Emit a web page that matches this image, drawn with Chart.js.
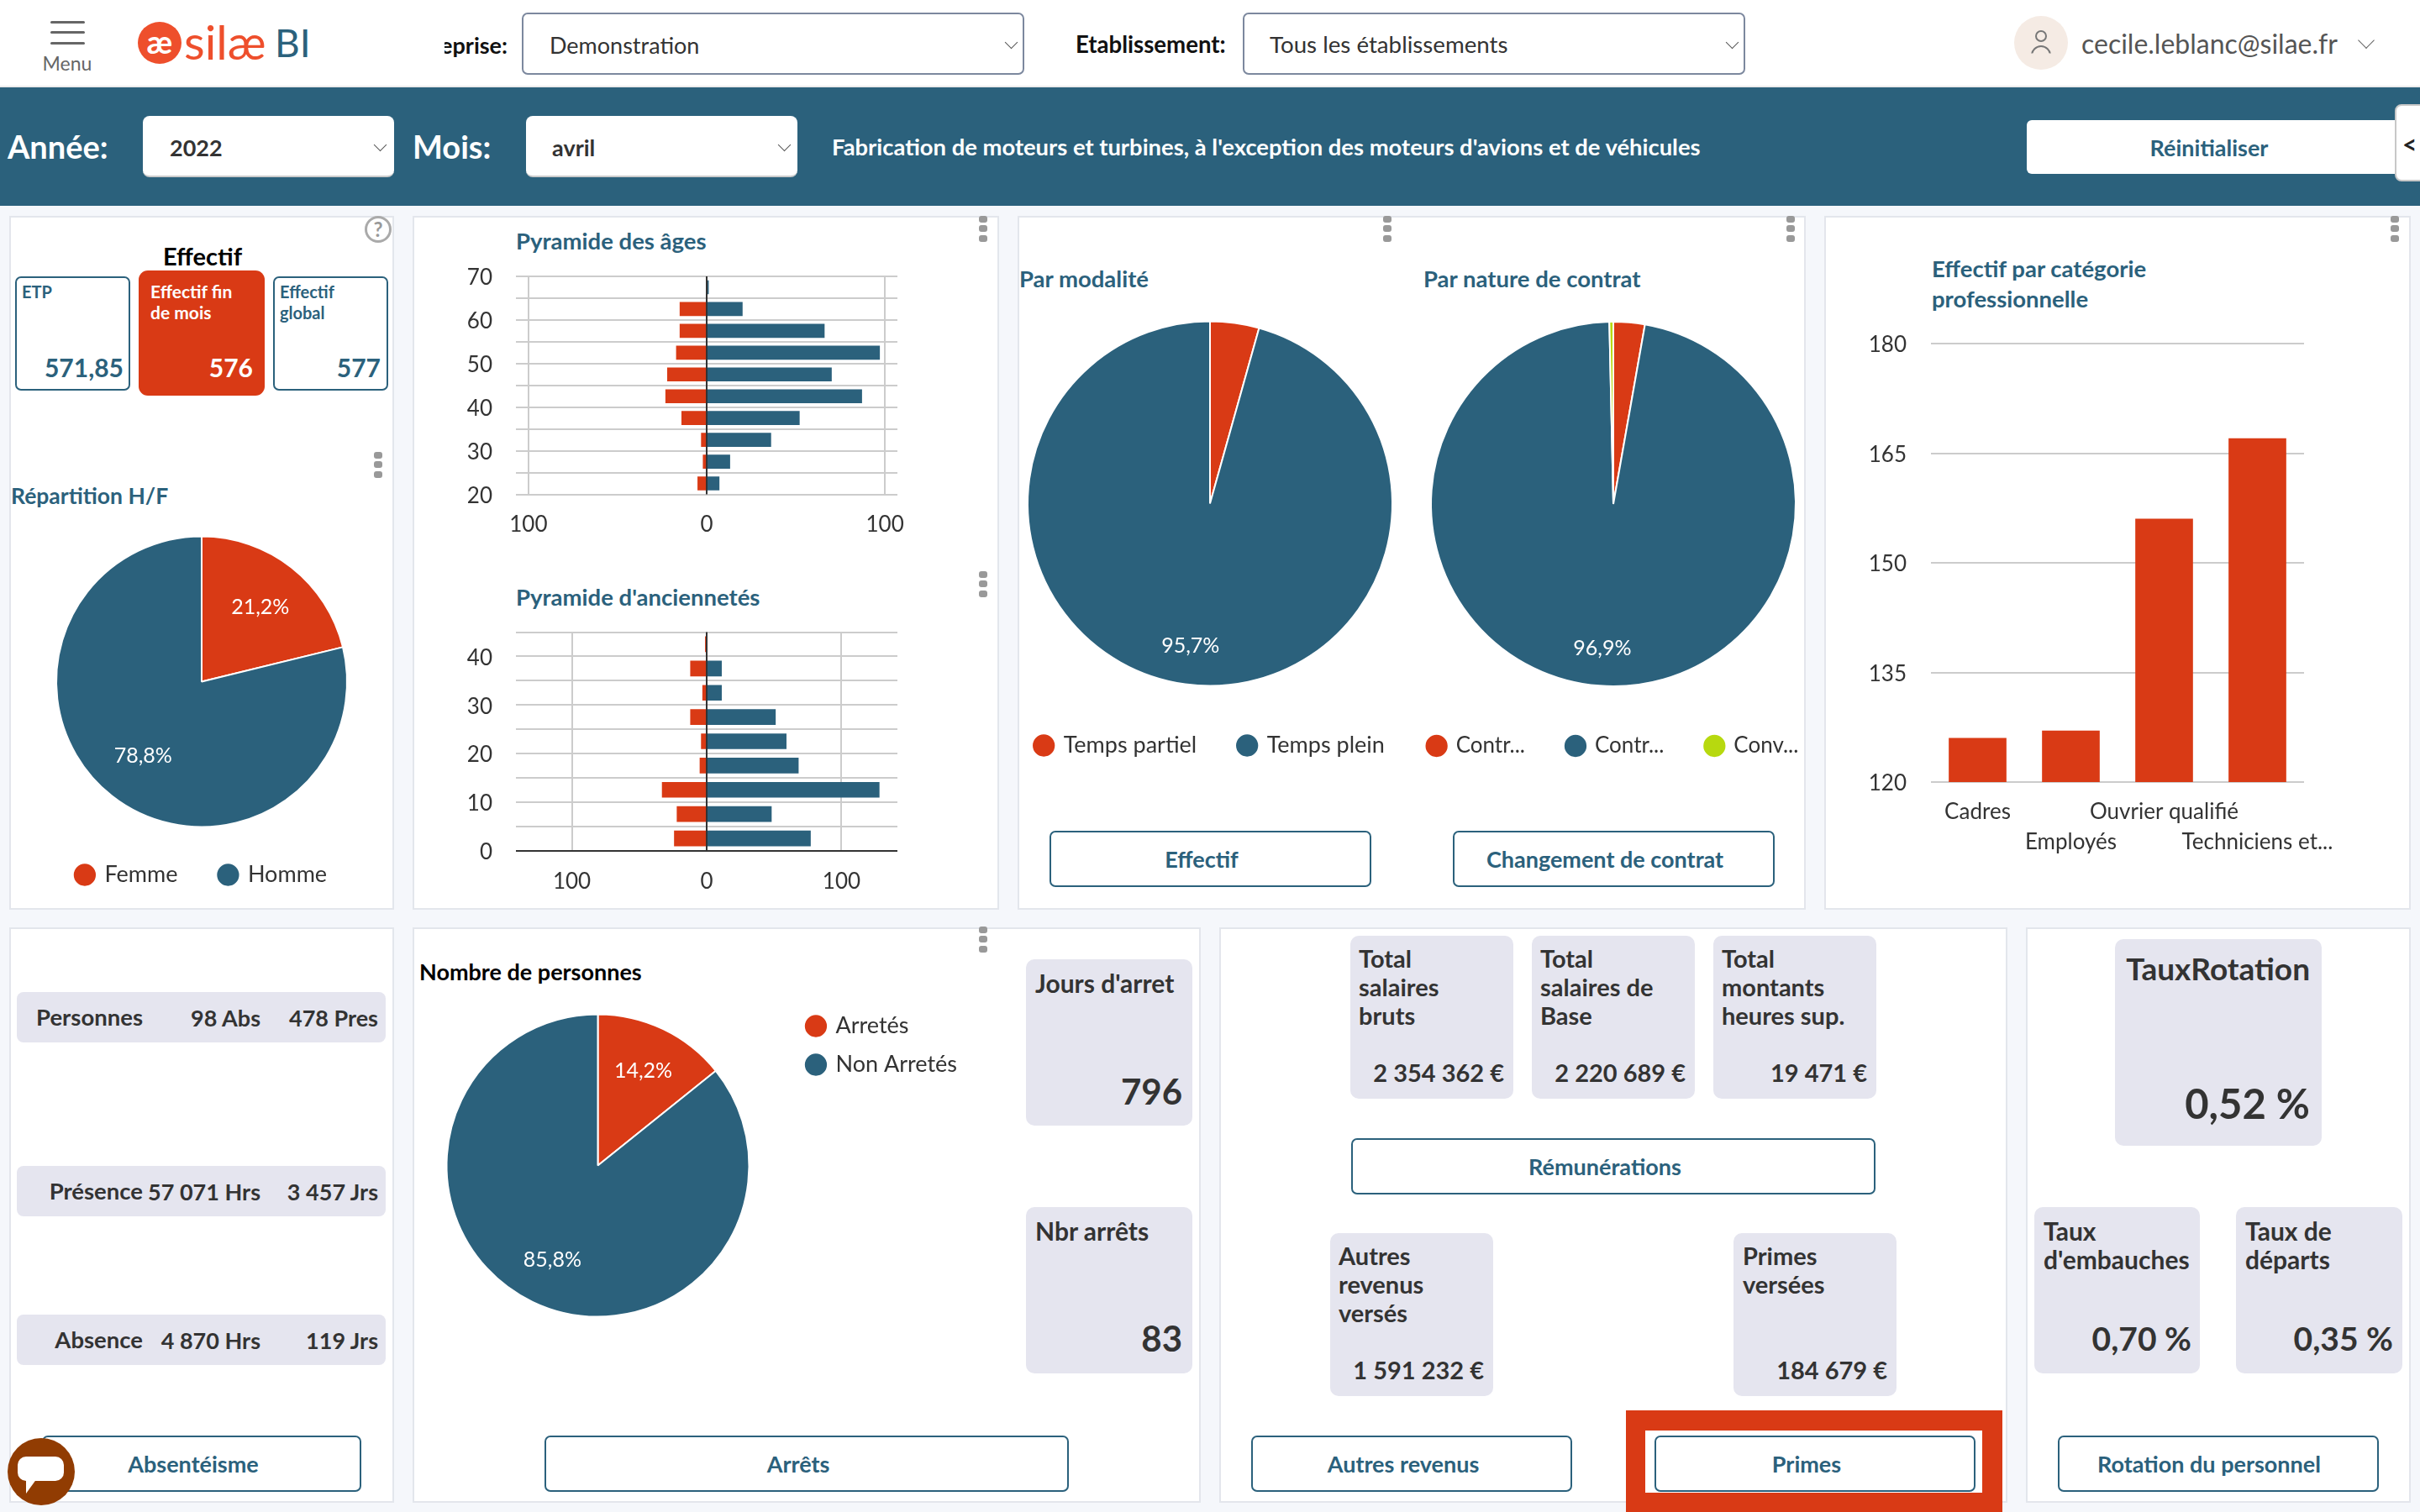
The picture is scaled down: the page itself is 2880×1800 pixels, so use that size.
<!DOCTYPE html>
<html lang="fr">
<head>
<meta charset="utf-8">
<title>Silae BI</title>
<script src="https://cdn.jsdelivr.net/npm/chart.js@4/dist/chart.umd.min.js"></script>
<style>
  html, body { margin: 0; padding: 0; background: #f5f7fb; width: 2880px; height: 1800px; overflow: hidden; font-family: Lato, sans-serif; }
  #page { position: absolute; left: 0; top: 0; width: 2880px; height: 1800px; overflow: hidden; }
  #page div { position: absolute; box-sizing: border-box; }
  .t { white-space: nowrap; line-height: 1; }
  canvas { position: absolute; display: block; }
</style>
</head>
<body>
<div id="page"></div>
<script>
// couleurs du tableau de bord
const ROUGE = '#d93a15';
const BLEU = '#2b617c';
const JAUNE = '#b7d90f';
const GRILLE = '#cccccc';
const GRIS = '#e5e5ef';

// Répartition H/F
const sexeLabels = ['Femme', 'Homme'];
const sexeValues = [122, 454];
// Par modalité
const modaliteLabels = ['Temps partiel', 'Temps plein'];
const modaliteValues = [25, 551];
// Par nature de contrat
const contratLabels = ['Contr...', 'Contr...', 'Conv...'];
const contratValues = [16, 558, 2];
// Arrêts
const arretLabels = ['Arretés', 'Non Arretés'];
const arretValues = [82, 494];

// Pyramide des âges
const agesBins = [22.5, 27.5, 32.5, 37.5, 42.5, 47.5, 52.5, 57.5, 62.5, 67.5];
const agesFemmes = [5, 2, 3, 14, 23, 22, 17, 15, 15, 0];
const agesHommes = [7, 13, 36, 52, 87, 70, 97, 66, 20, 1];
// Pyramide d'anciennetés
const ancBins = [2.5, 7.5, 12.5, 17.5, 22.5, 27.5, 32.5, 37.5, 42.5];
const ancFemmes = [24, 22, 33, 5, 4, 12, 3, 12, 1];
const ancHommes = [77, 48, 128, 68, 59, 51, 11, 11, 0];
const pyramideTicks = [-100, 0, 100];

// Effectif par catégorie professionnelle
const categories = ['Cadres', 'Employés', 'Ouvrier qualifié', 'Techniciens et...'];
const categorieValues = [126, 127, 156, 167];

const page = document.getElementById('page');

function box(x0, y0, x1, y1, css) {
    const d = document.createElement('div');
    d.style.cssText = `left:${x0}px;top:${y0}px;width:${x1 - x0}px;height:${y1 - y0}px;` + (css || '');
    page.appendChild(d);
    return d;
}

// texte centré verticalement sur y ; a = l, r ou c
function text(str, x, y, size, color, weight, a) {
    const d = document.createElement('div');
    d.className = 't';
    d.textContent = str;
    const tx = a === 'r' ? '-100%' : a === 'c' ? '-50%' : '0';
    d.style.cssText = `left:${x}px;top:${y - 1.5}px;font-size:${size}px;color:${color || '#333'};font-weight:${weight || 400};transform:translate(${tx},-50%);`;
    page.appendChild(d);
    return d;
}

function chevron(x, y, s, c) {
    box(x - s / 2, y - s / 2 - 2, x + s / 2, y + s / 2 - 2, `border-right:1.5px solid ${c || '#555'};border-bottom:1.5px solid ${c || '#555'};transform:rotate(45deg) scale(1,1);`);
}

function kebab(x, y) {
    [0, 11, 23].forEach(dy => box(x - 5, y + dy - 4, x + 5, y + dy + 4, 'background:#999;border-radius:3px;'));
}

function bouton(label, x0, x1, y0, y1, cx) {
    box(x0, y0, x1, y1, `background:#fff;border:2.5px solid ${BLEU};border-radius:7px;`);
    text(label, cx, (y0 + y1) / 2 + 1, 27, BLEU, 700, 'c');
}

function panneau(x0, y0, x1, y1) {
    box(x0, y0, x1, y1, 'background:#fff;border:2px solid #e3e6ec;');
}

function tuile(x0, y0, x1, y1, radius) {
    box(x0, y0, x1, y1, `background:${GRIS};border-radius:${radius || 10}px;`);
}

// ---- en-tête ----
box(0, 0, 2880, 102, 'background:#fff;');
box(0, 102, 2880, 104, 'background:#ececec;');
box(0, 104, 2880, 245, `background:${BLEU};`);
[26, 38, 51].forEach(y => box(60, y - 1.5, 101, y + 1.5, 'background:#666;border-radius:2px;'));
text('Menu', 80, 76, 23, '#666', 400, 'c');
box(164, 26, 216, 76, 'background:#ee4f2c;border-radius:50%;');
text('æ', 190, 50, 38, '#fff', 700, 'c');
text('silæ', 219, 50, 57, '#ee4f2c', 400);
text('BI', 327, 52, 46, BLEU, 400);

const coupe = box(529, 33, 604, 73, 'overflow:hidden;display:flex;justify-content:flex-end;align-items:center;');
const entreprise = document.createElement('span');
entreprise.textContent = 'Entreprise:';
entreprise.style.cssText = 'font-size:27px;font-weight:700;color:#111;white-space:nowrap;flex:none;';
coupe.appendChild(entreprise);

box(621, 15, 1219, 89, 'background:#fff;border:2px solid #7c889e;border-radius:7px;');
text('Demonstration', 654, 54, 27, '#333');
chevron(1203, 52, 11);
text('Etablissement:', 1280, 54, 27.6, '#111', 700);
box(1479, 15, 2077, 89, 'background:#fff;border:2px solid #7c889e;border-radius:7px;');
text('Tous les établissements', 1511, 54, 27.7, '#333');
chevron(2061, 52, 11);
box(2397, 19, 2461, 83, 'background:#f5ebe4;border-radius:50%;');
box(2422, 36, 2436, 50, 'border:2px solid #777;border-radius:50%;');
box(2417, 54, 2441, 78, 'border:2px solid #777;border-radius:50%;clip-path:inset(0 0 60% 0);');
text('cecile.leblanc@silae.fr', 2477, 53, 32, '#555');
chevron(2816, 50, 14, '#666');

text('Année:', 9, 175, 38, '#fff', 700);
box(170, 138, 469, 211, 'background:#fff;border-radius:8px;border-bottom:2px solid #ccc;');
text('2022', 202, 176, 27, '#333', 700);
chevron(452, 174, 11);
text('Mois:', 491, 175, 38, '#fff', 700);
box(626, 138, 949, 211, 'background:#fff;border-radius:8px;border-bottom:2px solid #ccc;');
text('avril', 657, 176, 27, '#333', 700);
chevron(933, 174, 11);
text('Fabrication de moteurs et turbines, à l\'exception des moteurs d\'avions et de véhicules', 990, 176, 27.4, '#fff', 700);
box(2412, 143, 2852, 207, 'background:#fff;border-radius:6px 0 0 6px;');
text('Réinitialiser', 2629, 176, 27, BLEU, 700, 'c');
box(2850, 124, 2890, 216, 'background:#fff;border:2px solid #c8c8c8;border-radius:8px;');
text('<', 2859, 172, 30, '#222', 700);

// ---- panneaux ----
panneau(11, 257, 469, 1083);
panneau(491, 257, 1189, 1083);
panneau(1211, 257, 2149, 1083);
panneau(2171, 257, 2869, 1083);
panneau(11, 1104, 469, 1789);
panneau(491, 1104, 1429, 1789);
panneau(1451, 1104, 2389, 1789);
panneau(2411, 1104, 2869, 1789);

kebab(450, 542);
kebab(1170, 261);
kebab(1170, 684);
kebab(1651, 261);
kebab(2131, 261);
kebab(2850, 261);
kebab(1170, 1107);

// Effectif
box(434, 257, 466, 289, 'border:3px solid #aaa;border-radius:50%;');
text('?', 450, 274, 24, '#999', 700, 'c');
text('Effectif', 241, 305, 29, '#000', 700, 'c');
box(18, 329, 155, 465, `background:#fff;border:2px solid ${BLEU};border-radius:7px;`);
text('ETP', 26, 348, 20, BLEU, 700);
text('571,85', 147, 438, 30, BLEU, 700, 'r');
box(165, 322, 315, 471, `background:${ROUGE};border-radius:11px;`);
text('Effectif fin', 179, 347, 21, '#fff', 700);
text('de mois', 179, 372, 21, '#fff', 700);
text('576', 301, 438, 30, '#fff', 700, 'r');
box(325, 329, 462, 465, `background:#fff;border:2px solid ${BLEU};border-radius:7px;`);
text('Effectif', 333, 348, 20, BLEU, 700);
text('global', 333, 373, 20, BLEU, 700);
text('577', 453, 438, 30, BLEU, 700, 'r');

text('Répartition H/F', 13, 591, 26.5, BLEU, 700);
text('Pyramide des âges', 614, 288.5, 27.5, BLEU, 700);
text('Pyramide d\'anciennetés', 614, 712, 27.5, BLEU, 700);
text('Par modalité', 1213, 333, 27.5, BLEU, 700);
text('Par nature de contrat', 1694, 333, 27.5, BLEU, 700);
text('Effectif par catégorie', 2299, 321, 27.5, BLEU, 700);
text('professionnelle', 2299, 357, 27.5, BLEU, 700);
bouton('Effectif', 1249, 1632, 989, 1056, 1430);
bouton('Changement de contrat', 1729, 2112, 989, 1056, 1910);

// Absentéisme
[[1181, 'Personnes', '98 Abs', '478 Pres'], [1388, 'Présence', '57 071 Hrs', '3 457 Jrs'], [1565, 'Absence', '4 870 Hrs', '119 Jrs']].forEach(r => {
    tuile(20, r[0], 459, r[0] + 60, 8);
    text(r[1], 170, r[0] + 31, 27.5, '#333', 700, 'r');
    text(r[2], 310, r[0] + 31, 27, '#333', 700, 'r');
    text(r[3], 450, r[0] + 31, 27, '#333', 700, 'r');
});
bouton('Absentéisme', 50, 430, 1709, 1776, 230);
box(9, 1712, 89, 1792, 'background:#913c02;border-radius:50%;');
box(21, 1734, 76, 1763, 'background:#fff;border-radius:10px;');
box(31, 1760, 44, 1778, 'background:#fff;clip-path:polygon(0 0,100% 0,0 100%);');

// Arrêts
text('Nombre de personnes', 499, 1157, 27, '#000', 700);
tuile(1221, 1142, 1419, 1340);
text('Jours d\'arret', 1232, 1171, 30, '#333', 700);
text('796', 1407, 1300, 42, '#333', 700, 'r');
tuile(1221, 1437, 1419, 1635);
text('Nbr arrêts', 1232, 1466, 30, '#333', 700);
text('83', 1407, 1594, 42, '#333', 700, 'r');
bouton('Arrêts', 648, 1272, 1709, 1776, 950);

// Rémunérations
[[1607, 1801, ['Total', 'salaires', 'bruts'], '2 354 362 €'], [1823, 2017, ['Total', 'salaires de', 'Base'], '2 220 689 €'], [2039, 2233, ['Total', 'montants', 'heures sup.'], '19 471 €']].forEach(r => {
    tuile(r[0], 1114, r[1], 1308);
    r[2].forEach((l, i) => text(l, r[0] + 10, [1141, 1175, 1209][i], 29, '#333', 700));
    text(r[3], r[1] - 11, 1277, 29, '#333', 700, 'r');
});
bouton('Rémunérations', 1608, 2232, 1355, 1422, 1910);
tuile(1583, 1468, 1777, 1662);
['Autres', 'revenus', 'versés'].forEach((l, i) => text(l, 1593, [1495, 1529, 1563][i], 29, '#333', 700));
text('1 591 232 €', 1766, 1631, 29, '#333', 700, 'r');
tuile(2063, 1468, 2257, 1662);
['Primes', 'versées'].forEach((l, i) => text(l, 2074, [1495, 1529][i], 29, '#333', 700));
text('184 679 €', 2246, 1631, 29, '#333', 700, 'r');
bouton('Autres revenus', 1489, 1871, 1709, 1776, 1670);
box(1935, 1679, 2383, 1800, `background:${ROUGE};`);
box(1958, 1703, 2359, 1777, 'background:#fff;');
bouton('Primes', 1969, 2351, 1709, 1776, 2150);

// Rotation
tuile(2517, 1118, 2763, 1364);
text('TauxRotation', 2749, 1153, 37, '#333', 700, 'r');
text('0,52 %', 2749, 1314, 49, '#333', 700, 'r');
tuile(2421, 1437, 2618, 1635);
text('Taux', 2432, 1466, 30, '#333', 700);
text('d\'embauches', 2432, 1500, 30, '#333', 700);
text('0,70 %', 2608, 1594, 39, '#333', 700, 'r');
tuile(2661, 1437, 2859, 1635);
text('Taux de', 2672, 1466, 30, '#333', 700);
text('départs', 2672, 1500, 30, '#333', 700);
text('0,35 %', 2848, 1594, 39, '#333', 700, 'r');
bouton('Rotation du personnel', 2449, 2831, 1709, 1776, 2629);

// ---- graphiques ----
Chart.defaults.font.family = 'Lato, sans-serif';
Chart.defaults.font.size = 26;
Chart.defaults.color = '#333';
Chart.defaults.animation = false;
Chart.defaults.responsive = false;

function canvasAt(x, y, w, h) {
    const c = document.createElement('canvas');
    c.width = w;
    c.height = h;
    c.style.left = x + 'px';
    c.style.top = y + 'px';
    page.appendChild(c);
    return c.getContext('2d');
}

// pourcentages dans les parts
const pctPlugin = {
    id: 'pct',
    afterDatasetsDraw(chart, args, opts) {
        const ctx = chart.ctx;
        const values = chart.data.datasets[0].data;
        const total = values.reduce((a, b) => a + b, 0);
        ctx.save();
        ctx.font = '25px Lato, sans-serif';
        ctx.fillStyle = '#fff';
        ctx.textAlign = 'center';
        ctx.textBaseline = 'middle';
        chart.getDatasetMeta(0).data.forEach((arc, i) => {
            if (values[i] / total < 0.05) return;
            const mid = (arc.startAngle + arc.endAngle) / 2;
            const txt = (values[i] / total * 100).toFixed(1).replace('.', ',') + '%';
            ctx.fillText(txt, arc.x + Math.cos(mid) * opts.dist, arc.y + Math.sin(mid) * opts.dist);
        });
        ctx.restore();
    }
};

function pie(ctx, labels, values, colors, radius, dist, legend, padTop) {
    return new Chart(ctx, {
        type: 'pie',
        data: {
            labels: labels,
            datasets: [{ data: values, backgroundColor: colors, borderColor: '#fff', borderWidth: 2, radius: radius, clip: false }]
        },
        options: {
            layout: { padding: { top: padTop || 0 } },
            plugins: {
                pct: { dist: dist },
                tooltip: { enabled: false },
                legend: legend
            }
        },
        plugins: [pctPlugin]
    });
}

function legendBottom(size) {
    return {
        position: 'bottom',
        labels: { usePointStyle: true, pointStyle: 'circle', boxWidth: 20, boxHeight: 20, padding: 50, color: '#333', font: { size: size } }
    };
}

pie(canvasAt(20, 620, 440, 445), sexeLabels, sexeValues, [ROUGE, BLEU], 173, 113, legendBottom(27), 25);
pie(canvasAt(1140, 375, 600, 536), modaliteLabels, modaliteValues, [ROUGE, BLEU], 217, 171, legendBottom(27));
pie(canvasAt(1620, 375, 600, 536), contratLabels, contratValues, [ROUGE, BLEU, JAUNE], 217, 172, legendBottom(26));
pie(canvasAt(481, 1189, 668, 397), arretLabels, arretValues, [ROUGE, BLEU], 180, 125, {
    position: 'right',
    align: 'start',
    labels: { usePointStyle: true, pointStyle: 'circle', boxWidth: 20, boxHeight: 20, padding: 19, color: '#333', font: { size: 27 } }
});

// trait vertical foncé sur le zéro, par-dessus les barres
const zeroPlugin = {
    id: 'zero',
    afterDatasetsDraw(chart) {
        const x = chart.scales.x.getPixelForValue(0);
        const area = chart.chartArea;
        const ctx = chart.ctx;
        ctx.save();
        ctx.strokeStyle = '#333';
        ctx.lineWidth = 2;
        ctx.beginPath();
        ctx.moveTo(x, area.top);
        ctx.lineTo(x, area.bottom);
        ctx.stroke();
        ctx.restore();
    }
};

function pyramide(ctx, bins, femmes, hommes, xLimit, yMin, yMax, barH, darkZero, tickPad, topPad) {
    return new Chart(ctx, {
        type: 'bar',
        data: {
            datasets: [
                { label: 'Femme', data: bins.map((b, i) => ({ x: -femmes[i], y: b })), backgroundColor: ROUGE, barThickness: barH, grouped: false },
                { label: 'Homme', data: bins.map((b, i) => ({ x: hommes[i], y: b })), backgroundColor: BLEU, barThickness: barH, grouped: false }
            ]
        },
        options: {
            indexAxis: 'y',
            layout: { padding: { top: topPad, right: 52 } },
            plugins: { legend: { display: false }, tooltip: { enabled: false } },
            scales: {
                x: {
                    type: 'linear',
                    min: -xLimit,
                    max: xLimit,
                    afterBuildTicks: s => { s.ticks = pyramideTicks.map(v => ({ value: v })); },
                    afterFit: s => { s.height = 61.5; s.paddingLeft = 0; s.paddingRight = 0; },
                    border: { display: false },
                    grid: { color: GRILLE, lineWidth: 2, drawTicks: false },
                    ticks: { padding: tickPad, autoSkip: false, maxRotation: 0, callback: v => Math.abs(v) }
                },
                y: {
                    type: 'linear',
                    min: yMin,
                    max: yMax,
                    offset: false,
                    afterFit: s => { s.width = 74; s.paddingTop = 0; s.paddingBottom = 0; },
                    border: { display: false },
                    grid: { offset: false, lineWidth: 2, drawTicks: false, color: c => (darkZero && c.tick && c.tick.value === 0) ? '#333' : GRILLE },
                    ticks: { stepSize: 5, padding: 28, labelOffset: 2, autoSkip: false, callback: v => v % 10 === 0 ? v : '' }
                }
            }
        },
        plugins: [zeroPlugin]
    });
}

pyramide(canvasAt(540, 310, 580, 340), agesBins, agesFemmes, agesHommes, 107, 20, 70, 16, false, 21, 19);
pyramide(canvasAt(540, 735, 580, 339), ancBins, ancFemmes, ancHommes, 141.5, 0, 45, 18, true, 22, 17.5);

new Chart(canvasAt(2210, 395, 640, 635), {
    type: 'bar',
    data: {
        labels: categories,
        datasets: [{ data: categorieValues, backgroundColor: ROUGE, barThickness: 68 }]
    },
    options: {
        layout: { padding: { top: 14, right: 108 } },
        plugins: { legend: { display: false }, tooltip: { enabled: false } },
        scales: {
            x: {
                afterFit: s => { s.height = 99; s.paddingLeft = 0; s.paddingRight = 0; },
                border: { display: false },
                grid: { display: false },
                ticks: {
                    padding: 9,
                    autoSkip: false,
                    maxRotation: 0,
                    font: { lineHeight: 1.4 },
                    // une étiquette sur deux passe sur la seconde ligne
                    callback: function (v, i) { const l = this.getLabelForValue(v); return i % 2 ? ['', l] : [l]; }
                }
            },
            y: {
                min: 120,
                max: 180,
                afterFit: s => { s.width = 88; s.paddingTop = 0; s.paddingBottom = 0; },
                border: { display: false },
                grid: { color: GRILLE, lineWidth: 2, drawTicks: false },
                ticks: { stepSize: 15, padding: 29, labelOffset: 2 }
            }
        }
    }
});
</script>
</body>
</html>
